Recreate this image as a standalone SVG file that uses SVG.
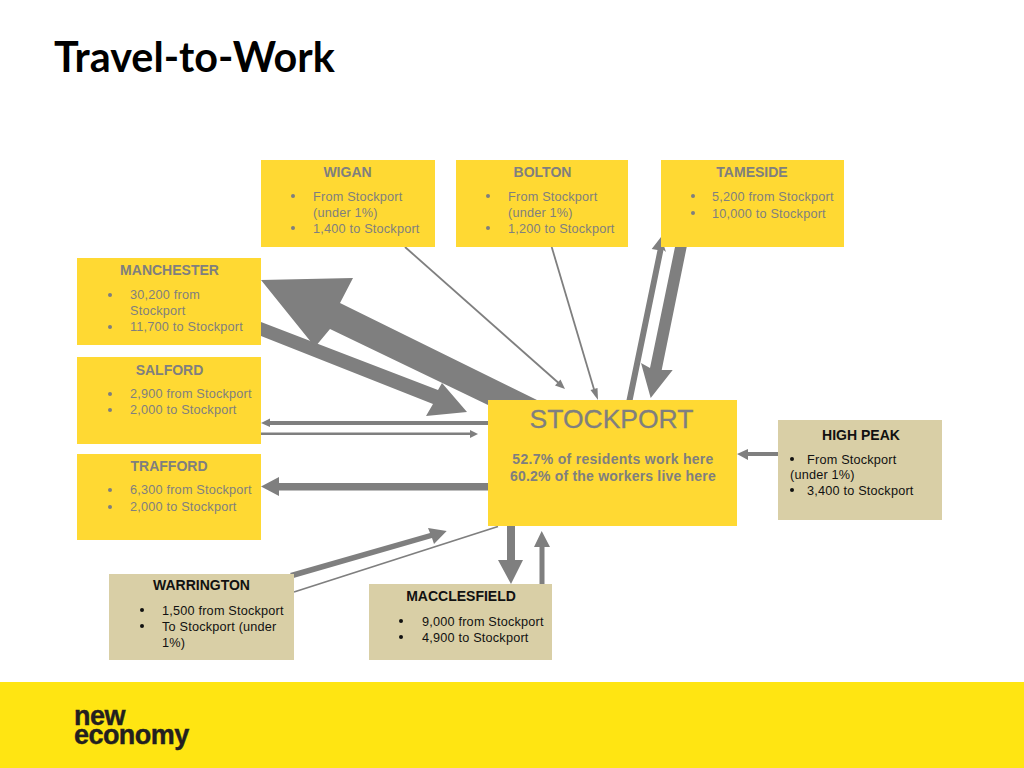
<svg xmlns="http://www.w3.org/2000/svg" width="1024" height="768" viewBox="0 0 1024 768">
<style>
text{font-family:"Liberation Sans",Arial,sans-serif}
.y{fill:#ffd933}.k{fill:#d9cfa6}
.a{fill:#7f7f7f}
.l{stroke:#7f7f7f;fill:none;stroke-width:1.8}
.hg{font-size:14px;font-weight:bold;fill:#7f7f7f;text-anchor:middle}
.hb{font-size:14px;font-weight:bold;fill:#111;text-anchor:middle}
.g{font-size:12.7px;fill:#7f7f7f;letter-spacing:.2px}
.b{font-size:12.7px;fill:#111;letter-spacing:.2px}
.dg{fill:#7f7f7f}.db{fill:#111}
</style>
<rect width="1024" height="768" fill="#fff"/>
<text x="54" y="72" font-size="41.3" font-weight="bold" fill="#000" style="font-family:Lato,'Liberation Sans',sans-serif;font-variant-ligatures:none">Travel-to-Work</text>
<rect id="footer" x="0" y="682" width="1024" height="86" fill="#ffe512"/>
<g id="logo" fill="#231f20" font-weight="bold" font-size="27" stroke="#231f20" stroke-width=".4">
<text x="74" y="725" letter-spacing="-.5">new</text>
<text x="74" y="744" letter-spacing="-.55">economy</text>
</g>
<g id="connectors">
<polygon class="a" points="261,322 438,390 442,383 467,412 426,416 433,404 261,336"/>
<polygon class="a" points="537,400 340,303 353,278 261,280 315,347 330,329 488,405"/>
<polygon class="a" points="488,421 270,421 270,418.5 261,423 270,427 270,425 488,425"/>
<polygon class="a" points="261,432.5 470,432.5 470,430 478,434 470,438 470,435 261,435"/>
<polygon class="a" points="488,483 279,483 279,477 261,486.5 279,496 279,490.5 488,490.5"/>
<polygon class="a" points="290,573 430,533 428,528 446.7,531 434,544 432,538 293.5,578"/>
<line class="l" x1="294" y1="592" x2="498" y2="526.5"/>
<polygon class="a" points="507,526 515,526 515,560 523,560 511,584 498,560 507,560"/>
<polygon class="a" points="539.5,584 544.5,584 544.5,547 550,547 541.7,531 534,547 539.5,547"/>
<line class="l" x1="405" y1="247" x2="562" y2="386"/>
<polygon class="a" points="565,389 555,385.5 560.5,379.5"/>
<line class="l" x1="551.7" y1="247" x2="596" y2="396"/>
<polygon class="a" points="598,400 590.5,390 597.5,388"/>
<polygon class="a" points="626.5,400 632.7,400 663.5,250 666,252 661,237 651.7,249 657.5,250"/>
<polygon class="a" points="675,247 686.7,247 661.7,370 672.7,370 650.7,398 641,363 650,368"/>
<polygon class="a" points="778,452 748,452 748,449 737,454 748,460 748,456 778,456"/>
</g>
<g id="wigan"><rect class="y" x="261" y="160" width="174" height="87"/>
<text class="hg" x="347.5" y="177">WIGAN</text>
<circle class="dg" cx="293" cy="196" r="2"/><circle class="dg" cx="293" cy="228" r="2"/>
<text class="g" x="313" y="201">From Stockport</text><text class="g" x="313" y="217">(under 1%)</text><text class="g" x="313" y="233">1,400 to Stockport</text></g>
<g id="bolton"><rect class="y" x="456" y="160" width="172" height="87"/>
<text class="hg" x="542.5" y="177">BOLTON</text>
<circle class="dg" cx="488" cy="196" r="2"/><circle class="dg" cx="488" cy="228" r="2"/>
<text class="g" x="508" y="201">From Stockport</text><text class="g" x="508" y="217">(under 1%)</text><text class="g" x="508" y="233">1,200 to Stockport</text></g>
<g id="tameside"><rect class="y" x="661" y="160" width="183" height="87"/>
<text class="hg" x="752" y="177">TAMESIDE</text>
<circle class="dg" cx="693" cy="196" r="2"/><circle class="dg" cx="693" cy="213" r="2"/>
<text class="g" x="712" y="201">5,200 from Stockport</text><text class="g" x="712" y="218">10,000 to Stockport</text></g>
<g id="manchester"><rect class="y" x="77" y="258" width="184" height="87"/>
<text class="hg" x="169.5" y="275">MANCHESTER</text>
<circle class="dg" cx="110" cy="295" r="2"/><circle class="dg" cx="110" cy="327" r="2"/>
<text class="g" x="130" y="299">30,200 from</text><text class="g" x="130" y="315">Stockport</text><text class="g" x="130" y="331">11,700 to Stockport</text></g>
<g id="salford"><rect class="y" x="77" y="357" width="184" height="87"/>
<text class="hg" x="169.5" y="375">SALFORD</text>
<circle class="dg" cx="110" cy="394" r="2"/><circle class="dg" cx="110" cy="410" r="2"/>
<text class="g" x="130" y="398">2,900 from Stockport</text><text class="g" x="130" y="414">2,000 to Stockport</text></g>
<g id="trafford"><rect class="y" x="77" y="454" width="184" height="86"/>
<text class="hg" x="169" y="471">TRAFFORD</text>
<circle class="dg" cx="110" cy="490" r="2"/><circle class="dg" cx="110" cy="507" r="2"/>
<text class="g" x="130" y="494">6,300 from Stockport</text><text class="g" x="130" y="511">2,000 to Stockport</text></g>
<g id="stockport"><rect class="y" x="488" y="400" width="249" height="126"/>
<text x="611.5" y="427.5" font-size="26.5" fill="#7f7f7f" stroke="#7f7f7f" stroke-width=".3" text-anchor="middle">STOCKPORT</text>
<text x="613" y="464" font-size="14" font-weight="bold" fill="#7f7f7f" text-anchor="middle" letter-spacing=".3">52.7% of residents work here</text>
<text x="613" y="481" font-size="14" font-weight="bold" fill="#7f7f7f" text-anchor="middle" letter-spacing=".2">60.2% of the workers live here</text></g>
<g id="highpeak"><rect class="k" x="778" y="420" width="164" height="100"/>
<text class="hb" x="861" y="440">HIGH PEAK</text>
<circle class="db" cx="792" cy="459" r="2"/><circle class="db" cx="792" cy="490" r="2"/>
<text class="b" x="807" y="464">From Stockport</text><text class="b" x="790" y="479">(under 1%)</text><text class="b" x="807" y="495">3,400 to Stockport</text></g>
<g id="warrington"><rect class="k" x="109" y="574" width="185" height="86"/>
<text class="hb" x="201.5" y="590">WARRINGTON</text>
<circle class="db" cx="142" cy="610" r="2"/><circle class="db" cx="142" cy="626" r="2"/>
<text class="b" x="162" y="615">1,500 from Stockport</text><text class="b" x="162" y="631">To Stockport (under</text><text class="b" x="162" y="647">1%)</text></g>
<g id="macclesfield"><rect class="k" x="369" y="584" width="183" height="76"/>
<text class="hb" x="461" y="601">MACCLESFIELD</text>
<circle class="db" cx="401" cy="621" r="2"/><circle class="db" cx="401" cy="637" r="2"/>
<text class="b" x="422" y="626">9,000 from Stockport</text><text class="b" x="422" y="642">4,900 to Stockport</text></g>
</svg>
